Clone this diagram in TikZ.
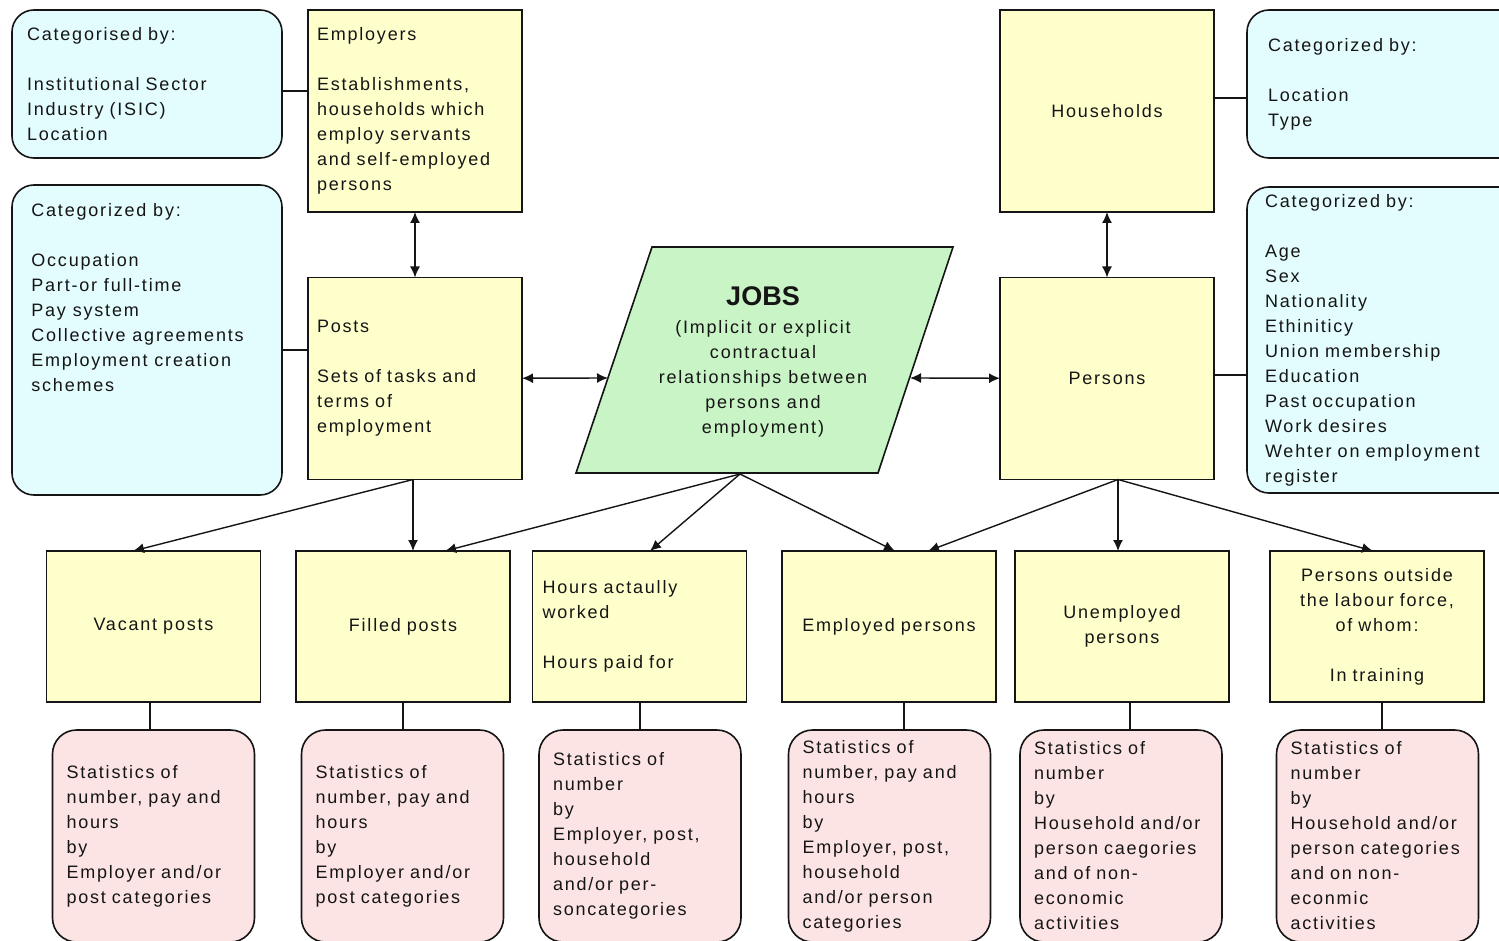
\documentclass[tikz,border=0pt]{standalone}
\usepackage{fontspec}
\setmainfont[LetterSpace=10]{Liberation Sans}
\newfontfamily\jobsfont{Liberation Sans}
\usetikzlibrary{arrows.meta}
\definecolor{yel}{HTML}{FFFFCC}
\definecolor{cya}{HTML}{E3FCFE}
\definecolor{grn}{HTML}{C9F4C6}
\definecolor{pnk}{HTML}{FCE4E4}
\definecolor{ink}{HTML}{151515}
\begin{document}
\begin{tikzpicture}[x=0.5pt,y=-0.5pt,
  every node/.style={font=\fontsize{9}{12.5}\selectfont, text=ink},
  box/.style={draw=ink, line width=0.8pt, outer sep=0pt, inner ysep=0pt},
  ybox/.style={box, fill=yel, inner xsep=4.5pt, text width=98pt, minimum height=101pt, align=left},
  bbox/.style={box, fill=yel, inner xsep=5pt, text width=97pt, minimum height=75.5pt, align=center},
  cbox/.style={box, fill=cya, rounded corners=11pt},
  pbox/.style={box, fill=pnk, rounded corners=12pt, inner xsep=7pt, text width=87pt, minimum height=106pt, align=left},
  con/.style={draw=ink, line width=0.7pt},
  arr/.style={con, -{Latex[length=5.5pt,width=5pt]}},
  dbl/.style={con, {Latex[length=5.5pt,width=5pt]}-{Latex[length=5.5pt,width=5pt]}},
]
\useasboundingbox (0,0) rectangle (1499,941);
\fill[white] (0,0) rectangle (1499,941);

% left categories
\node[cbox, inner xsep=7.5pt, text width=120pt, minimum height=74pt, align=left] (cy1) at (147,84)
  {Categorised by:\\[12.5pt]Institutional Sector\\Industry (ISIC)\\Location};
\node[cbox, minimum width=135pt, minimum height=155pt] (cy2) at (147,340) {};
\node[anchor=north west, inner sep=0pt, align=left] (cy2t) at (31,203)
  {Categorized by:\\[12.5pt]Occupation\\Part-or full-time\\Pay system\\Collective agreements\\Employment creation\\schemes};

% right categories
\node[cbox, inner xsep=10.5pt, text width=120.5pt, minimum height=74pt, align=left] (cyr1) at (1388.5,84)
  {Categorized by:\\[12.5pt]Location\\Type};
\node[cbox, inner xsep=9pt, text width=123.5pt, minimum height=153pt, align=left] (cyr2) at (1388.5,340)
  {Categorized by:\\[12.5pt]Age\\Sex\\Nationality\\Ethiniticy\\Union membership\\Education\\Past occupation\\Work desires\\Wehter on employment\\register};

% main yellow boxes
\node[ybox] (empl) at (415,111)
  {Employers\\[12.5pt]Establishments,\\households which\\employ servants\\and self-employed\\persons};
\node[ybox] (posts) at (415,378.5)
  {Posts\\[12.5pt]Sets of tasks and\\terms of\\employment};
\node[ybox, align=center] (hh) at (1107,111) {Households};
\node[ybox, align=center] (pers) at (1107,378.5) {Persons};

% JOBS
\filldraw[fill=grn, draw=ink, line width=0.8pt] (652,247) -- (953,247) -- (878,473) -- (576,473) -- cycle;
\node[align=center, inner sep=0pt] (jobs) at (763,362)
  {{\jobsfont\bfseries\fontsize{13.5}{16}\selectfont JOBS}\\[1.5pt](Implicit or explicit\\contractual\\relationships between\\persons and\\employment)};
\coordinate (jL) at (608,378);
\coordinate (jR) at (910,378);
\coordinate (jB) at (740,474);

% bottom yellow boxes
\node[bbox] (vac) at (153.5,626.5) {Vacant posts};
\node[bbox] (fil) at (403,626.5) {Filled posts};
\node[bbox, align=left] (hrs) at (639.5,626.5) {Hours actaully\\worked\\[12.5pt]Hours paid for};
\node[bbox] (empd) at (889,626.5) {Employed persons};
\node[bbox] (une) at (1122,626.5) {Unemployed\\persons};
\node[bbox] (out) at (1377,626.5) {Persons outside\\the labour force,\\of whom:\\[12.5pt]In training};

% pink statistics boxes
\node[pbox] (pk1) at (153.5,836) {Statistics of\\number, pay and\\hours\\by\\Employer and/or\\post categories};
\node[pbox] (pk2) at (402.5,836) {Statistics of\\number, pay and\\hours\\by\\Employer and/or\\post categories};
\node[pbox] (pk3) at (640,836) {Statistics of\\number\\by\\Employer, post,\\household\\and/or per-\\soncategories};
\node[pbox] (pk4) at (889.5,836) {Statistics of\\number, pay and\\hours\\by\\Employer, post,\\household\\and/or person\\categories};
\node[pbox] (pk5) at (1121,836) {Statistics of\\number\\by\\Household and/or\\person caegories\\and of non-\\economic\\activities};
\node[pbox] (pk6) at (1377.5,836) {Statistics of\\number\\by\\Household and/or\\person categories\\and on non-\\econmic\\activities};

% category connectors
\coordinate (l1) at (0,91);
\coordinate (l2) at (0,350);
\coordinate (l3) at (0,98);
\coordinate (l4) at (0,375);
\draw[con] (cy1.east |- l1) -- (empl.west |- l1);
\draw[con] (cy2.east |- l2) -- (posts.west |- l2);
\draw[con] (hh.east |- l3) -- (cyr1.west |- l3);
\draw[con] (pers.east |- l4) -- (cyr2.west |- l4);

% double arrows
\draw[dbl] (empl) -- (posts);
\draw[dbl] (hh) -- (pers);
\draw[dbl] (posts) -- (jL);
\draw[dbl] (jR) -- (pers);

% arrows to bottom row
\draw[arr] ([xshift=-1pt]posts.south) -- ([xshift=-10.25pt]vac.north);
\draw[arr] ([xshift=-1pt]posts.south) -- ([xshift=5pt]fil.north);
\draw[arr] (jB) -- ([xshift=21pt]fil.north);
\draw[arr] (jB) -- ([xshift=5.25pt]hrs.north);
\draw[arr] (jB) -- ([xshift=3pt]empd.north);
\draw[arr] ([xshift=5.5pt]pers.south) -- ([xshift=19.5pt]empd.north);
\draw[arr] ([xshift=5.5pt]pers.south) -- ([xshift=-2pt]une.north);
\draw[arr] ([xshift=5.5pt]pers.south) -- ([xshift=-2pt]out.north);

% vertical links to statistics
\draw[con] ([xshift=-1.75pt]vac.south) -- ([xshift=-1.75pt]pk1.north);
\draw[con] (fil.south) -- ([xshift=0.25pt]pk2.north);
\draw[con] ([xshift=0.25pt]hrs.south) -- (pk3.north);
\draw[con] ([xshift=7.5pt]empd.south) -- ([xshift=7.25pt]pk4.north);
\draw[con] ([xshift=4pt]une.south) -- ([xshift=4.5pt]pk5.north);
\draw[con] ([xshift=2.5pt]out.south) -- ([xshift=2.25pt]pk6.north);
\end{tikzpicture}
\end{document}
